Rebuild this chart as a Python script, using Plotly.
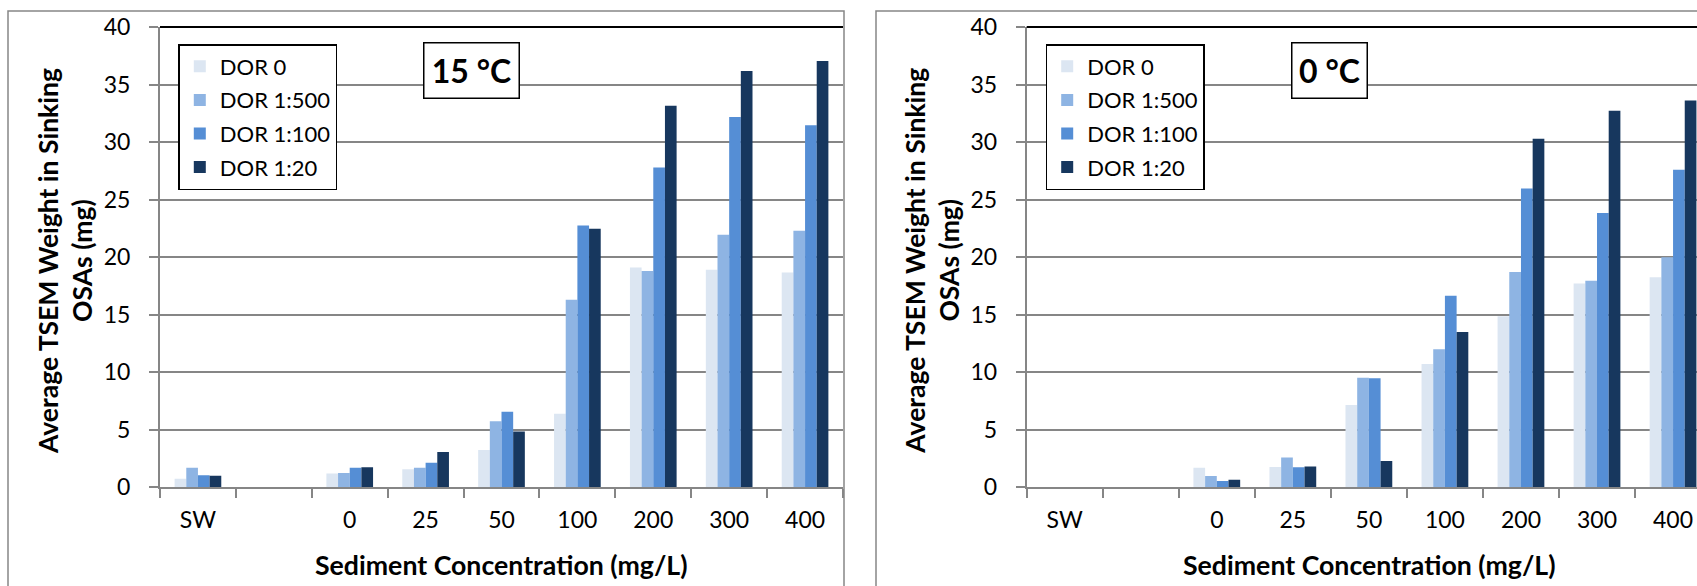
import plotly.graph_objects as go

# Sediment concentration categories (blank slot separates seawater control from the series)
categories = ["SW", " ", "0", "25", "50", "100", "200", "300", "400"]
series_names = ["DOR 0", "DOR 1:500", "DOR 1:100", "DOR 1:20"]
colors = ["#DCE6F2", "#8EB4E3", "#558ED5", "#17375E"]
y_ticks = [0, 5, 10, 15, 20, 25, 30, 35, 40]

# Average TSEM weight (mg) at 15 °C
warm_dor0 = [0.75, None, 1.19, 1.56, 3.24, 6.4, 19.1, 18.9, 18.66]
warm_dor500 = [1.70, None, 1.24, 1.70, 5.73, 16.3, 18.8, 21.94, 22.3]
warm_dor100 = [1.04, None, 1.70, 2.14, 6.57, 22.75, 27.8, 32.17, 31.47]
warm_dor20 = [1.00, None, 1.75, 3.07, 4.84, 22.46, 33.16, 36.17, 37.04]

# Average TSEM weight (mg) at 0 °C
cold_dor0 = [None, None, 1.70, 1.77, 7.16, 10.72, 14.87, 17.7, 18.26]
cold_dor500 = [None, None, 0.98, 2.58, 9.53, 12.0, 18.72, 17.94, 20.0]
cold_dor100 = [None, None, 0.55, 1.74, 9.48, 16.64, 25.97, 23.83, 27.59]
cold_dor20 = [None, None, 0.66, 1.80, 2.29, 13.5, 30.29, 32.72, 33.62]

warm = [warm_dor0, warm_dor500, warm_dor100, warm_dor20]
cold = [cold_dor0, cold_dor500, cold_dor100, cold_dor20]

W, H = 1697, 586
FONT = "Lato"
GRID = "#868686"


def px_x(v):
    return v / W


def px_y(v):
    return 1 - v / H


ytop, ybot = 27.0, 487.3
left_dom = [px_x(160.0), px_x(843.0)]
right_dom = [px_x(1026.7), 1.0]
y_dom = [px_y(ybot), px_y(ytop)]

fig = go.Figure()
for i, name in enumerate(series_names):
    fig.add_trace(go.Bar(
        x=categories, y=warm[i], name=name, marker_color=colors[i],
        marker_line_width=0, xaxis="x", yaxis="y",
        legend="legend", legendgroup=f"w{i}",
    ))
for i, name in enumerate(series_names):
    fig.add_trace(go.Bar(
        x=categories, y=cold[i], name=name, marker_color=colors[i],
        marker_line_width=0, xaxis="x2", yaxis="y2",
        legend="legend2", legendgroup=f"c{i}",
    ))

xaxis_common = dict(
    type="category", categoryorder="array", categoryarray=categories,
    showline=True, linecolor=GRID, linewidth=2,
    ticks="outside", tickson="boundaries", ticklen=9, tickcolor=GRID, tickwidth=1.5,
    showgrid=False, zeroline=False, automargin=False,
    tickfont=dict(family=FONT, size=23, color="black"),
    ticklabelstandoff=11, fixedrange=True,
)
yaxis_common = dict(
    range=[0, 40], tickvals=y_ticks, domain=y_dom,
    showgrid=True, gridcolor=GRID, gridwidth=1.5,
    showline=True, linecolor=GRID, linewidth=2,
    ticks="outside", ticklen=9, tickcolor=GRID, tickwidth=1.5,
    zeroline=False, automargin=False,
    tickfont=dict(family=FONT, size=23, color="black"),
    ticklabelstandoff=14, fixedrange=True,
)

legend_common = dict(
    xanchor="left", yanchor="top",
    bgcolor="white", bordercolor="black", borderwidth=1.5,
    font=dict(family=FONT, size=22, color="black"),
    tracegroupgap=2, traceorder="grouped",
)

fig.update_layout(
    template="none",
    width=W, height=H,
    margin=dict(l=0, r=0, t=0, b=0, autoexpand=False),
    paper_bgcolor="white", plot_bgcolor="white",
    barmode="group", bargap=0.385, bargroupgap=0,
    font=dict(family=FONT, color="black"),
    showlegend=True,
    xaxis=dict(domain=left_dom, range=[-0.5, 8.5], anchor="y", **xaxis_common),
    yaxis=dict(anchor="x", **yaxis_common),
    xaxis2=dict(domain=right_dom, range=[-0.5, 8.315], anchor="y2", **xaxis_common),
    yaxis2=dict(anchor="x2", **yaxis_common),
    legend=dict(x=px_x(178.3), y=px_y(44), **legend_common),
    legend2=dict(x=px_x(1045.7), y=px_y(44), **legend_common),
)

# Chart area borders and the dark top edge of each plot area
shapes = [
    dict(type="rect", xref="paper", yref="paper", x0=px_x(8), x1=px_x(844),
         y0=-0.05, y1=px_y(11), line=dict(color=GRID, width=1.5), layer="below"),
    dict(type="rect", xref="paper", yref="paper", x0=px_x(876), x1=1.05,
         y0=-0.05, y1=px_y(11), line=dict(color=GRID, width=1.5), layer="below"),
    dict(type="line", xref="paper", yref="paper", x0=left_dom[0], x1=left_dom[1],
         y0=y_dom[1], y1=y_dom[1], line=dict(color="black", width=2)),
    dict(type="line", xref="paper", yref="paper", x0=right_dom[0], x1=1.0,
         y0=y_dom[1], y1=y_dom[1], line=dict(color="black", width=2)),
]

ytitle_font = dict(family=FONT, size=26.5, color="black", weight="bold")
xtitle_font = dict(family=FONT, size=26.7, color="black", weight="bold")
label_font = dict(family=FONT, size=32, color="black", weight="bold")
annotations = []
for off, temp, box_cx, xt_cx in [(0.0, "15 °C", 471.3, 501.5), (866.7, "0 °C", 1329.3, 1369.0)]:
    annotations.append(dict(
        text="Average TSEM Weight in Sinking<br>OSAs (mg)", textangle=-90,
        xref="paper", yref="paper", x=px_x(65 + off), y=px_y(261),
        xanchor="center", yanchor="middle", showarrow=False, font=ytitle_font,
    ))
    annotations.append(dict(
        text="Sediment Concentration (mg/L)",
        xref="paper", yref="paper", x=px_x(xt_cx), y=px_y(565),
        xanchor="center", yanchor="middle", showarrow=False, font=xtitle_font,
    ))
    annotations.append(dict(
        text=temp, xref="paper", yref="paper", x=px_x(box_cx), y=px_y(70),
        xanchor="center", yanchor="middle", showarrow=False, font=label_font,
        width=90 if off == 0 else 70, height=50,
        bgcolor="white", bordercolor="black", borderwidth=1.5, borderpad=2,
    ))

fig.update_layout(shapes=shapes, annotations=annotations)

fig.write_html("out.html")
